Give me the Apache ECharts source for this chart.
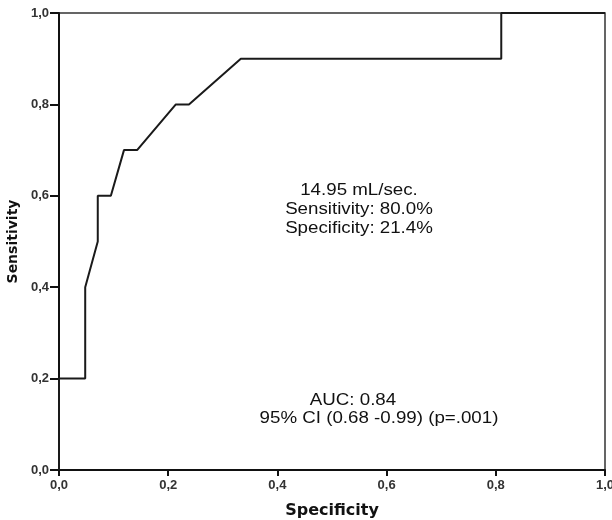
<!DOCTYPE html>
<html>
<head>
<meta charset="utf-8">
<script src="https://cdn.jsdelivr.net/npm/echarts@6/dist/echarts.min.js"></script>
<style>
  html, body { margin: 0; padding: 0; background: #fff; }
  #chart { width: 612px; height: 520px; }
</style>
</head>
<body>
<div id="chart"></div>
<script>
// ROC curve points (x = 1 - specificity, y = sensitivity)
var rocX = [0, 0, 0.048, 0.048, 0.071, 0.071, 0.095, 0.119, 0.143, 0.214, 0.238, 0.333, 0.810, 0.810, 1.0]
var rocY = [0, 0.2, 0.2, 0.4, 0.5, 0.6, 0.6, 0.7, 0.7, 0.8, 0.8, 0.9, 0.9, 1.0, 1.0]
var cutoffText = ['14.95 mL/sec.', 'Sensitivity: 80.0%', 'Specificity: 21.4%']
var aucText = ['AUC: 0.84', '95% CI (0.68 -0.99) (p=.001)']

var font = 'Liberation Sans, Arial, sans-serif'
var nameFont = 'DejaVu Sans, Verdana, sans-serif'
var chart = echarts.init(document.getElementById('chart'))

function fmt(v) {
  return v.toFixed(1).replace('.', ',')
}

// annotation text, a little wider than plain Arial like the original export
function note(text, x, y) {
  return {
    type: 'text',
    x: x,
    y: y,
    scaleX: 1.17,
    style: {
      text: text,
      font: '16px ' + font,
      fill: '#111',
      align: 'center',
      verticalAlign: 'middle'
    }
  }
}

chart.setOption({
  animation: false,
  backgroundColor: '#fff',
  grid: {
    left: 59,
    right: 7,
    top: 13,
    bottom: 50,
    outerBoundsMode: 'none',
    show: true,
    borderColor: '#333',
    borderWidth: 1.5
  },
  xAxis: {
    type: 'value',
    min: 0,
    max: 1,
    interval: 0.2,
    name: 'Specificity',
    nameLocation: 'middle',
    nameGap: 33,
    nameTextStyle: { fontFamily: nameFont, fontSize: 16, fontWeight: 'bold', color: '#111' },
    axisLine: { show: true, onZero: false, lineStyle: { color: '#111', width: 2 } },
    axisTick: { show: true, length: 6, lineStyle: { color: '#111', width: 2 } },
    axisLabel: { formatter: fmt, fontFamily: font, fontSize: 13, fontWeight: 'bold', color: '#333', margin: 9 },
    splitLine: { show: false }
  },
  yAxis: {
    type: 'value',
    min: 0,
    max: 1,
    interval: 0.2,
    name: 'Sensitivity',
    nameLocation: 'middle',
    nameGap: 39,
    nameTextStyle: { fontFamily: nameFont, fontSize: 14, fontWeight: 'bold', color: '#111' },
    axisLine: { show: true, onZero: false, lineStyle: { color: '#111', width: 2 } },
    axisTick: { show: true, length: 9, lineStyle: { color: '#111', width: 2 } },
    axisLabel: { formatter: fmt, fontFamily: font, fontSize: 13, fontWeight: 'bold', color: '#333', margin: 10 },
    splitLine: { show: false }
  },
  series: [{
    type: 'line',
    data: rocX.map(function (x, i) { return [x, rocY[i]] }),
    showSymbol: false,
    lineStyle: { color: '#1a1a1a', width: 2 },
    z: 3
  }],
  graphic: [
    note(cutoffText[0], 359, 191),
    note(cutoffText[1], 359, 210),
    note(cutoffText[2], 359, 229),
    note(aucText[0], 353, 401),
    note(aucText[1], 379, 419)
  ]
})
</script>
</body>
</html>
